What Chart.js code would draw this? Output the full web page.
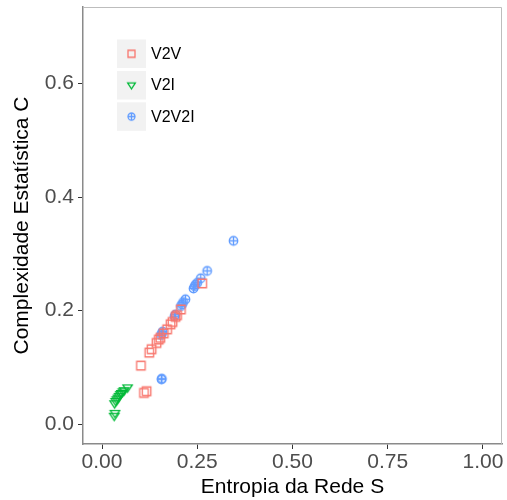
<!DOCTYPE html>
<html>
<head>
<meta charset="utf-8">
<script src="https://cdn.jsdelivr.net/npm/chart.js@4/dist/chart.umd.min.js"></script>
<style>
  body { margin: 0; background: #fff; }
</style>
</head>
<body>
<canvas id="chart" width="507" height="500"></canvas>
<script>
// Werte
const seriesNames = ['V2V', 'V2I', 'V2V2I'];
const seriesColors = ['#F8766D', '#00BA38', '#619CFF'];

const v2vX = [0.102, 0.110, 0.117, 0.124, 0.130, 0.143, 0.149, 0.153, 0.162, 0.171, 0.180, 0.185, 0.193, 0.197, 0.207, 0.263];
const v2vY = [0.103, 0.055, 0.058, 0.126, 0.132, 0.143, 0.149, 0.152, 0.160, 0.167, 0.176, 0.180, 0.189, 0.192, 0.202, 0.248];

const v2iX = [0.032, 0.034, 0.033, 0.036, 0.039, 0.042, 0.045, 0.048, 0.051, 0.055, 0.058, 0.067];
const v2iY = [0.014, 0.019, 0.036, 0.040, 0.043, 0.046, 0.049, 0.052, 0.054, 0.057, 0.059, 0.064];

const v2v2iX = [0.155, 0.157, 0.159, 0.156, 0.157, 0.190, 0.193, 0.207, 0.210, 0.213, 0.219, 0.240, 0.243, 0.246, 0.250, 0.259, 0.276, 0.345];
const v2v2iY = [0.157, 0.160, 0.163, 0.079, 0.080, 0.190, 0.193, 0.208, 0.211, 0.215, 0.220, 0.239, 0.243, 0.246, 0.249, 0.257, 0.270, 0.323];

const xTicks = [0, 0.25, 0.5, 0.75, 1];
const yTicks = [0, 0.2, 0.4, 0.6];

// Punktsymbole wie in ggplot (Quadrat, Dreieck nach unten, Kreis mit Kreuz)
function makeShape(kind, color, size) {
  const c = document.createElement('canvas');
  const s = Math.ceil(size + 4);
  c.width = s; c.height = s;
  const g = c.getContext('2d');
  g.strokeStyle = color;
  g.lineWidth = 1.3;
  const m = s / 2, r = size / 2;
  g.beginPath();
  if (kind === 'square') {
    g.rect(m - r, m - r, size, size);
  } else if (kind === 'triangle') {
    g.moveTo(m - r * 1.1, m - r * 0.7);
    g.lineTo(m + r * 1.1, m - r * 0.7);
    g.lineTo(m, m + r * 1.0);
    g.closePath();
  } else {
    g.arc(m, m, r, 0, Math.PI * 2);
    g.moveTo(m - r, m); g.lineTo(m + r, m);
    g.moveTo(m, m - r); g.lineTo(m, m + r);
  }
  g.stroke();
  return c;
}

const shapeKinds = ['square', 'triangle', 'circleplus'];
const pointImgs = shapeKinds.map((k, i) => makeShape(k, seriesColors[i], 8.5));
const keyImgs = shapeKinds.map((k, i) => makeShape(k, seriesColors[i], 7));

function toPoints(xs, ys) {
  return xs.map((x, i) => ({ x: x, y: ys[i] }));
}

// Legende innerhalb des Panels zeichnen
const insideLegend = {
  id: 'insideLegend',
  afterDraw(chart) {
    const ctx = chart.ctx;
    const rows = [39.5, 71, 102.3];
    ctx.save();
    rows.forEach((top, i) => {
      ctx.fillStyle = '#f2f2f2';
      ctx.fillRect(117, top, 29, 28.5);
      const img = keyImgs[i];
      ctx.drawImage(img, 131.5 - img.width / 2, top + 14.3 - img.height / 2);
      ctx.fillStyle = '#000';
      ctx.font = '16px "Liberation Sans", Arial, sans-serif';
      ctx.textBaseline = 'middle';
      ctx.fillText(seriesNames[i], 151, top + 15);
    });
    // Panelrahmen oben und rechts
    const a = chart.chartArea;
    ctx.strokeStyle = '#bdbdbd';
    ctx.lineWidth = 1;
    ctx.beginPath();
    ctx.moveTo(a.left, a.top + 0.5);
    ctx.lineTo(a.right - 0.5, a.top + 0.5);
    ctx.lineTo(a.right - 0.5, a.bottom);
    ctx.stroke();
    ctx.restore();
  }
};

const tickFont = { family: '"Liberation Sans", Arial, sans-serif', size: 21 };
const titleFont = { family: '"Liberation Sans", Arial, sans-serif', size: 21 };

new Chart(document.getElementById('chart'), {
  type: 'scatter',
  data: {
    datasets: [
      { label: seriesNames[0], data: toPoints(v2vX, v2vY), pointStyle: pointImgs[0] },
      { label: seriesNames[1], data: toPoints(v2iX, v2iY), pointStyle: pointImgs[1] },
      { label: seriesNames[2], data: toPoints(v2v2iX, v2v2iY), pointStyle: pointImgs[2] }
    ]
  },
  options: {
    responsive: false,
    animation: false,
    layout: { padding: { top: 7, right: 1, left: 0, bottom: 0 } },
    plugins: {
      legend: { display: false },
      tooltip: { enabled: false }
    },
    scales: {
      x: {
        type: 'linear',
        min: -0.05,
        max: 1.05,
        afterBuildTicks: s => { s.ticks = xTicks.map(v => ({ value: v })); },
        afterFit: s => { s.height = 56; s.paddingLeft = 0; s.paddingRight = 0; },
        ticks: {
          font: tickFont,
          color: '#4d4d4d',
          padding: 1,
          maxRotation: 0,
          callback: v => v.toFixed(2)
        },
        grid: { display: true, drawOnChartArea: false, tickLength: 5, color: '#333' },
        border: { display: true, color: '#8a8a8a', width: 1.5 },
        title: { display: true, text: 'Entropia da Rede S', font: titleFont, color: '#000', padding: { top: 0, bottom: 0 } }
      },
      y: {
        type: 'linear',
        min: -0.035,
        max: 0.735,
        afterBuildTicks: s => { s.ticks = yTicks.map(v => ({ value: v })); },
        afterFit: s => { s.width = 83; s.paddingTop = 0; s.paddingBottom = 0; },
        ticks: {
          font: tickFont,
          color: '#4d4d4d',
          padding: 4,
          callback: v => v.toFixed(1)
        },
        grid: { display: true, drawOnChartArea: false, tickLength: 5, color: '#333' },
        border: { display: true, color: '#8a8a8a', width: 1.5 },
        title: { display: true, text: 'Complexidade Estatística C', font: titleFont, color: '#000', padding: { top: 10, bottom: 4 } }
      }
    }
  },
  plugins: [insideLegend]
});
</script>
</body>
</html>
